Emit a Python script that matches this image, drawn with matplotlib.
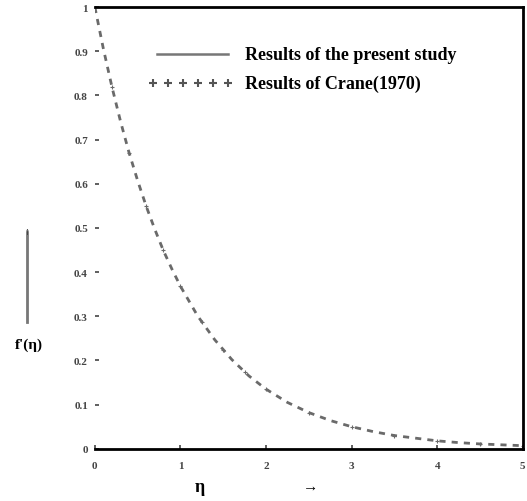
import matplotlib.pyplot as plt
import numpy as np

# eta values and velocity profile f'(eta)
ETA = [0.0, 0.1, 0.2, 0.3, 0.4, 0.5, 0.6, 0.7, 0.8, 0.9, 1.0, 1.2, 1.4, 1.6, 1.8,
       2.0, 2.25, 2.5, 2.75, 3.0, 3.25, 3.5, 3.75, 4.0, 4.25, 4.5, 4.75, 5.0]
F_PRESENT = [1.0, 0.905, 0.819, 0.741, 0.670, 0.607, 0.549, 0.497, 0.449, 0.407,
             0.368, 0.301, 0.247, 0.202, 0.165, 0.135, 0.105, 0.082, 0.064, 0.050,
             0.039, 0.030, 0.024, 0.018, 0.014, 0.011, 0.009, 0.007]
ETA_CRANE = [0.0, 0.2, 0.4, 0.6, 0.8, 1.0, 1.25, 1.5, 1.75, 2.0, 2.5, 3.0, 3.5,
             4.0, 4.5, 5.0]
F_CRANE = [1.0, 0.819, 0.670, 0.549, 0.449, 0.368, 0.287, 0.223, 0.174, 0.135,
           0.082, 0.050, 0.030, 0.018, 0.011, 0.007]

XTICKS = [0, 1, 2, 3, 4, 5]
YTICKS = [0, 0.1, 0.2, 0.3, 0.4, 0.5, 0.6, 0.7, 0.8, 0.9, 1.0]
YTICKLABELS = ["0", "0.1", "0.2", "0.3", "0.4", "0.5", "0.6", "0.7", "0.8", "0.9", "1"]

plt.rcParams["font.family"] = ["Liberation Serif", "DejaVu Serif"]
plt.rcParams["font.weight"] = "bold"

fig = plt.figure(figsize=(5.27, 5.02), dpi=100)
ax = fig.add_axes([0.180, 0.104, 0.812, 0.880])

ax.plot(ETA, F_PRESENT, color="#6a6a6a", lw=2.0, linestyle=(0, (2.2, 2.2)),
        label="Results of the present study")
ax.plot(ETA_CRANE, F_CRANE, linestyle="none", marker="+", ms=2.5, mew=0.8,
        color="#6a6a6a", label="Results of Crane(1970)")

ax.set_xlim(0, 5)
ax.set_ylim(0, 1)
ax.set_xticks(XTICKS)
ax.set_xticklabels([str(t) for t in XTICKS], fontsize=8)
ax.set_yticks(YTICKS)
ax.set_yticklabels(YTICKLABELS, fontsize=8)
ax.tick_params(direction="in", length=3, width=1.2, colors="#444444")
ax.tick_params(axis="x", pad=9)
ax.tick_params(axis="y", pad=5)

ax.spines["left"].set_visible(False)
for s in ("top", "right", "bottom"):
    ax.spines[s].set_linewidth(2.0)
    ax.spines[s].set_color("black")

# custom legend drawn as a two-row key
ax.plot([0.145, 0.31], [0.893, 0.893], transform=ax.transAxes, color="#777777",
        lw=1.8)
ax.plot(np.linspace(0.135, 0.31, 6), [0.827] * 6, transform=ax.transAxes,
        linestyle="none", marker="+", ms=6, mew=1.5, color="#555555")
ax.text(0.35, 0.893, "Results of the present study", transform=ax.transAxes,
        fontsize=13, va="center", ha="left")
ax.text(0.35, 0.827, "Results of Crane(1970)", transform=ax.transAxes,
        fontsize=13, va="center", ha="left")

# axis labels with arrows
fig.text(0.38, 0.028, "\u03b7", fontsize=13, ha="center", va="center")
fig.text(0.59, 0.030, "\u2192", fontsize=11, ha="center", va="center")
fig.text(0.055, 0.312, "f'(\u03b7)", fontsize=11, ha="center", va="center")
fig.add_artist(plt.Line2D([0.052, 0.052], [0.357, 0.535], color="#777777", lw=2.0))
fig.text(0.052, 0.537, "\u2191", fontsize=7, ha="center", va="center")

fig.savefig("out.png", dpi=100)
